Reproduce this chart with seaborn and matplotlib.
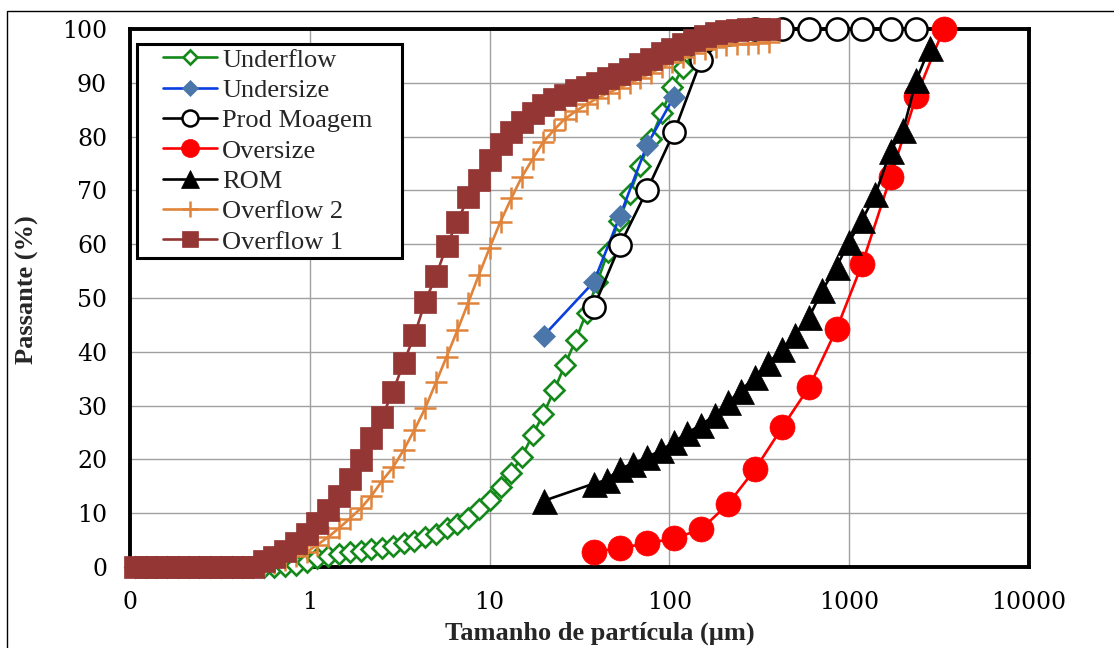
import matplotlib
matplotlib.use("Agg")
import matplotlib.pyplot as plt
from matplotlib.ticker import FixedLocator, FixedFormatter, NullLocator
from matplotlib.legend_handler import HandlerLine2D
from matplotlib.lines import Line2D
from matplotlib.patches import Rectangle
from matplotlib.font_manager import FontProperties
import seaborn as sns

# laser diffraction size classes (um), shared by Underflow / Overflow 1 / Overflow 2
sizes_laser = [0.106, 0.122, 0.140, 0.161, 0.184, 0.212, 0.243, 0.279, 0.320, 0.367,
               0.421, 0.483, 0.555, 0.636, 0.730, 0.838, 0.962, 1.10, 1.27, 1.45,
               1.67, 1.92, 2.20, 2.52, 2.90, 3.32, 3.82, 4.38, 5.03, 5.77,
               6.62, 7.60, 8.72, 10.0, 11.5, 13.2, 15.1, 17.4, 19.9, 22.9,
               26.2, 30.1, 34.6, 39.7, 45.5, 52.2, 60.0, 68.8, 79.0, 90.6,
               104, 119, 137, 157, 181, 207, 238, 273, 313, 359]

underflow = [0, 0, 0, 0, 0, 0, 0, 0, 0, 0,
             0, 0, 0, 0, 0.1, 0.4, 0.9, 1.6, 2.1, 2.4,
             2.7, 3.0, 3.3, 3.6, 3.9, 4.4, 4.9, 5.5, 6.2, 7.2,
             8.0, 9.2, 10.7, 12.5, 14.8, 17.5, 20.5, 24.6, 28.4, 32.9,
             37.5, 42.2, 47.3, 53.0, 58.5, 64.3, 69.3, 74.6, 79.6, 84.4,
             89.3, 92.8, 95.5, 97.4, 98.7, 99.4, 99.8, 100, 100, 100]

overflow2 = [0, 0, 0, 0, 0, 0, 0, 0, 0, 0,
             0, 0, 0.3, 0.7, 1.3, 2.0, 2.8, 4.1, 5.6, 7.2,
             9.0, 10.9, 13.2, 16.0, 18.5, 21.7, 25.5, 29.5, 34.3, 39.1,
             44.0, 49.1, 54.3, 59.3, 64.2, 68.5, 72.5, 75.9, 79.0, 81.3,
             83.3, 84.7, 86.0, 87.1, 88.1, 89.0, 89.9, 90.8, 91.8, 92.9,
             93.9, 94.8, 95.6, 96.2, 96.7, 97.0, 97.2, 97.3, 97.4, 97.5]

overflow1 = [0, 0, 0, 0, 0, 0, 0, 0, 0, 0,
             0, 0, 1.1, 1.9, 3.0, 4.5, 6.1, 8.2, 10.6, 13.2,
             16.3, 19.9, 23.9, 27.9, 32.6, 37.9, 43.1, 49.3, 54.1, 59.7,
             64.2, 68.7, 72.0, 75.7, 78.6, 80.9, 82.8, 84.4, 85.8, 86.9,
             87.8, 88.6, 89.3, 90.0, 90.8, 91.6, 92.5, 93.5, 94.5, 95.5,
             96.2, 97.3, 98.0, 98.7, 99.2, 99.6, 99.9, 100, 100, 100]

# sieve analyses
undersize_x = [20, 38, 53, 75, 106]
undersize_y = [43.0, 53.0, 65.2, 78.4, 87.4]

moagem_x = [38, 53, 75, 106, 150, 212, 300, 425, 600, 850, 1180, 1700, 2360]
moagem_y = [48.3, 59.8, 70.0, 80.8, 94.2, 99.0, 100, 100, 100, 100, 100, 100, 100]

oversize_x = [38, 53, 75, 106, 150, 212, 300, 425, 600, 850, 1180, 1700, 2360, 3350]
oversize_y = [2.8, 3.5, 4.4, 5.3, 7.0, 11.7, 18.2, 26.0, 33.5, 44.2, 56.3, 72.5, 87.5, 100]

rom_x = [20, 38, 45, 53, 63, 75, 90, 106, 125, 150, 180, 212, 250, 300, 355, 425,
         500, 600, 710, 850, 1000, 1180, 1400, 1700, 2000, 2360, 2800]
rom_y = [12.3, 15.5, 16.2, 18.3, 19.2, 20.4, 21.7, 23.2, 24.9, 26.4, 28.3, 30.6, 32.8,
         35.4, 37.9, 40.5, 43.2, 46.5, 51.5, 55.8, 60.5, 64.5, 69.3, 77.4, 81.3, 90.5, 96.5]

xticks = [0.1, 1, 10, 100, 1000, 10000]
xtick_labels = ["0", "1", "10", "100", "1000", "10000"]
yticks = [0, 10, 20, 30, 40, 50, 60, 70, 80, 90, 100]

sns.set_theme(style="white")
plt.rcParams["font.family"] = ["DejaVu Serif"]

W, H = 1114, 648
fig = plt.figure(figsize=(W / 100, H / 100), dpi=100)
ax = fig.add_axes([130 / W, 81 / H, 899 / W, 538 / H])
ax.set_xscale("log")

green = "#14891a"
series = [
    ("Underflow", sizes_laser, underflow,
     dict(color=green, marker="D", markersize=10.5, markerfacecolor="white",
          markeredgecolor=green, markeredgewidth=1.9, zorder=3)),
    ("Undersize", undersize_x, undersize_y,
     dict(color="#0a3ee0", marker="D", markersize=11.5, markerfacecolor="#4a76aa",
          markeredgecolor="#4a76aa", markeredgewidth=0.5, zorder=4)),
    ("Prod Moagem", moagem_x, moagem_y,
     dict(color="black", marker="o", markersize=16, markerfacecolor="white",
          markeredgecolor="black", markeredgewidth=1.8, zorder=5)),
    ("Oversize", oversize_x, oversize_y,
     dict(color="#ff0000", marker="o", markersize=18, markerfacecolor="#ff0000",
          markeredgecolor="#ff0000", markeredgewidth=0.5, zorder=6)),
    ("ROM", rom_x, rom_y,
     dict(color="black", marker="^", markersize=18, markerfacecolor="black",
          markeredgecolor="black", markeredgewidth=0.5, zorder=7)),
    ("Overflow 2", sizes_laser, overflow2,
     dict(color="#e0843c", marker="+", markersize=16, markeredgecolor="#e0843c",
          markeredgewidth=1.8, zorder=8)),
    ("Overflow 1", sizes_laser, overflow1,
     dict(color="#933634", marker="s", markersize=16.5, markerfacecolor="#933634",
          markeredgecolor="#933634", markeredgewidth=0.5, zorder=9)),
]

for name, xs, ys, kw in series:
    sns.lineplot(x=xs, y=ys, ax=ax, label=name, sort=False, errorbar=None,
                 linewidth=1.9, clip_on=False, **kw)

ax.set_xlim(0.1, 10000)
ax.set_ylim(0, 100)
ax.xaxis.set_major_locator(FixedLocator(xticks))
ax.xaxis.set_major_formatter(FixedFormatter(xtick_labels))
ax.xaxis.set_minor_locator(NullLocator())
ax.set_yticks(yticks)
ax.set_xlabel("")
ax.set_ylabel("")
ax.grid(True, color="#a0a0a0", linewidth=1.0)
ax.set_axisbelow(True)
ax.tick_params(axis="both", length=0, labelsize=17, colors="black")
ax.tick_params(axis="y", pad=16.5)
ax.tick_params(axis="x", pad=17)
for sp in ax.spines.values():
    sp.set_linewidth(2.8)
    sp.set_color("black")
    sp.set_zorder(2.6)

handles, labels = ax.get_legend_handles_labels()
leg = ax.legend(handles, labels, loc="upper left",
                bbox_to_anchor=(7 / 899, 0.3, 265 / 899, 523 / 538 - 0.3),
                mode="expand", borderaxespad=0, borderpad=0.16,
                prop=FontProperties(family="Liberation Serif", size=19),
                handlelength=2.87, handletextpad=0.19, labelspacing=0.26,
                markerscale=0.72, frameon=True, fancybox=False, framealpha=1,
                edgecolor="black", facecolor="white",
                handler_map={Line2D: HandlerLine2D(xpad=0.83)})
leg.get_frame().set_linewidth(2.2)
leg.set_zorder(20)

lab = dict(family="Liberation Serif", weight="bold", size=19)
fig.text(600 / W, 1 - 640 / H, "Tamanho de partícula (µm)", ha="center",
         va="baseline", fontproperties=FontProperties(**lab))
fig.text(27 / W, 1 - 290 / H, "Passante (%)", rotation=90, ha="center",
         va="center", fontproperties=FontProperties(**lab))

# thin outer frame of the original figure
fig.add_artist(Rectangle((7 / W, -0.1), 1.2, 1.1 - 11 / H, transform=fig.transFigure,
                         fill=False, edgecolor="black", linewidth=1.0))

fig.savefig("out.png", dpi=100)
